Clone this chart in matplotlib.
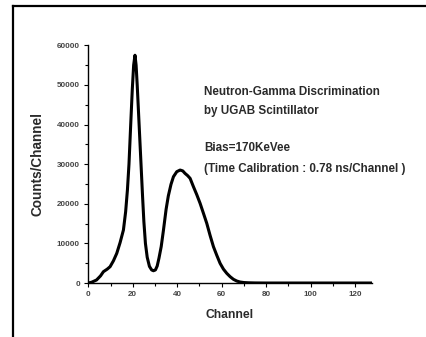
import matplotlib
matplotlib.use("Agg")
import matplotlib.pyplot as plt
from matplotlib.lines import Line2D
from matplotlib.ticker import MultipleLocator

plt.rcParams["font.family"] = ["Liberation Sans", "DejaVu Sans"]
plt.rcParams["font.weight"] = "bold"

# values
channel = [0, 1.5, 3.7, 5.5, 6.8, 8.5, 9.8, 11.3, 12.8, 14.3, 15.8, 16.8, 17.6, 18.3,
           19.1, 19.8, 20.4, 21.0, 21.5, 22.0, 22.6, 23.2, 23.8, 24.4, 25.0, 25.7,
           26.5, 27.5, 28.5, 29.3, 30.2, 31.0, 31.8, 32.8, 33.8, 35.0, 36.0, 37.2,
           38.3, 39.8, 41.3, 42.5, 43.5, 44.7, 45.8, 47.3, 48.8, 50.3, 51.8, 53.3,
           54.8, 56.3, 57.8, 59.3, 60.8, 62.3, 63.8, 65.3, 66.8, 68.3, 70.0, 72.0,
           75.0, 80.0, 90.0, 100.0, 110.0, 120.0, 127.5]
counts = [0, 200, 760, 1800, 2860, 3500, 4120, 5600, 7490, 10200, 13380, 18000,
          23500, 30000, 40300, 49000, 55000, 57500, 55000, 50000, 43000, 36000,
          29000, 22000, 15500, 10000, 6500, 4200, 3300, 3100, 3300, 4300, 6300,
          9200, 13300, 18600, 21990, 24900, 26830, 28100, 28520, 28300, 27680,
          27100, 26420, 24310, 22300, 20110, 17600, 15060, 12000, 9170, 7000, 4960,
          3500, 2440, 1600, 930, 500, 250, 120, 60, 20, 0, 0, 0, 0, 0, 0]

annot_title = ["Neutron-Gamma Discrimination", "by UGAB Scintillator"]
annot_bias = ["Bias=170KeVee", "(Time Calibration : 0.78 ns/Channel )"]

fig = plt.figure(figsize=(4.27, 3.37), dpi=100)
ax = fig.add_axes([0.2068, 0.1602, 0.6637, 0.7053])

ax.plot(channel, counts, color="black", linewidth=2.2, solid_joinstyle="round")

ax.set_xlim(0, 127.5)
ax.set_ylim(0, 60000)
ax.xaxis.set_major_locator(MultipleLocator(20))
ax.xaxis.set_minor_locator(MultipleLocator(10))
ax.yaxis.set_major_locator(MultipleLocator(10000))
ax.yaxis.set_minor_locator(MultipleLocator(5000))
for side in ("top", "right"):
    ax.spines[side].set_visible(False)
for side in ("left", "bottom"):
    ax.spines[side].set_linewidth(1.0)
ax.tick_params(which="major", direction="out", length=3, width=0.8,
               labelsize=5.8, labelcolor="#444444", pad=3)
ax.tick_params(which="minor", direction="out", length=2, width=0.8)

text_color = "#2a2a2a"
ax.set_xlabel("Channel", fontsize=8.7, fontweight="bold", color=text_color, labelpad=8)
ax.set_ylabel("Counts/Channel", fontsize=9.8, fontweight="bold", color=text_color, labelpad=9)

fig.text(0.478, 0.726, annot_title[0], fontsize=8.4, fontweight="bold", color=text_color, va="center")
fig.text(0.478, 0.671, annot_title[1], fontsize=8.4, fontweight="bold", color=text_color, va="center")
fig.text(0.478, 0.562, annot_bias[0], fontsize=8.4, fontweight="bold", color=text_color, va="center")
fig.text(0.478, 0.4985, annot_bias[1], fontsize=8.4, fontweight="bold", color=text_color, va="center")

# outer frame (left and top edges)
top = 1 - 6 / 337
left = 13 / 427
fig.add_artist(Line2D([left, left], [0, top], color="black", linewidth=1.6))
fig.add_artist(Line2D([left, 1], [top, top], color="black", linewidth=1.6))

fig.savefig("out.png", dpi=100)
